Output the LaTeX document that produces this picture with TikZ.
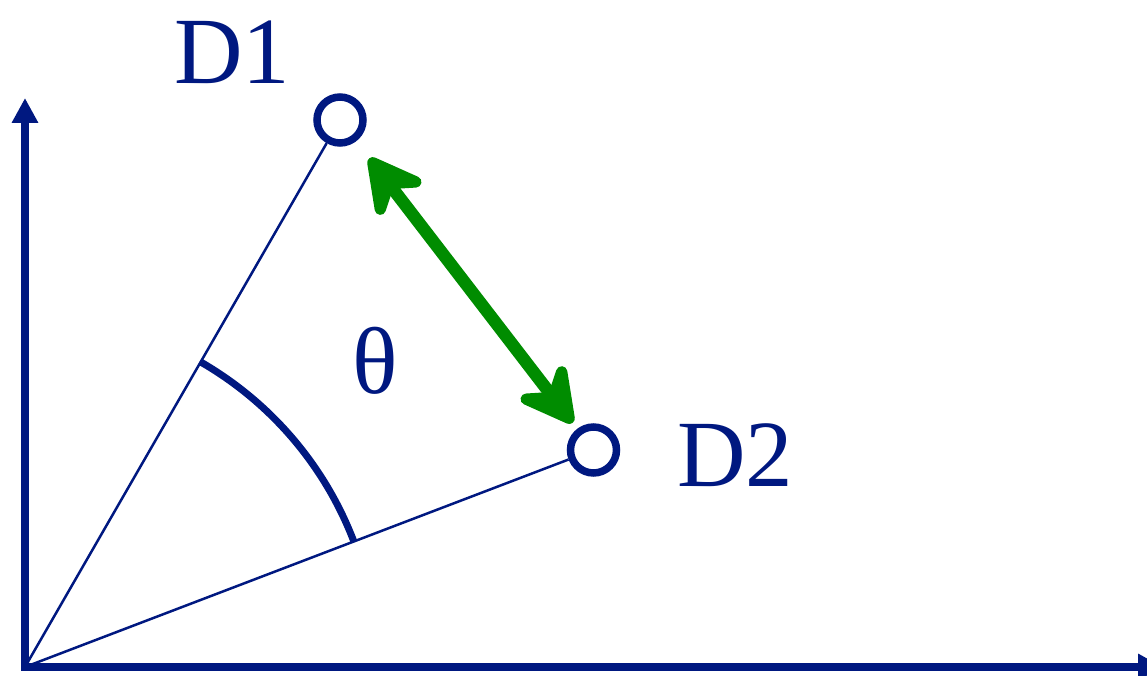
\documentclass[tikz,border=0pt]{standalone}
\usepackage{fontspec}
\setmainfont{Liberation Serif}
\usetikzlibrary{arrows.meta, angles}

\definecolor{navy}{RGB}{0,24,128}
\definecolor{grn}{RGB}{0,140,0}

\begin{document}
\begin{tikzpicture}[
    axis/.style={navy, line width=0.15cm, {Triangle[length=0.5cm, width=0.5cm]}-{Triangle[length=0.5cm, width=0.5cm]}},
    doc/.style={draw=navy, circle, line width=0.15cm, minimum size=0.92cm, inner sep=0pt},
    ray/.style={navy, line width=0.05cm},
    lbl/.style={text=navy, font=\fontsize{54}{60}\selectfont, inner sep=0pt}
]
    \useasboundingbox (-0.5, -0.16) rectangle (22.44, 13.34);
    \coordinate (O) at (0, 0);
    \coordinate (ytop) at (0, 11.38);
    \coordinate (xend) at (22.76, 0);
    \draw[axis] (ytop) -- (O) -- (xend);
    \node[doc] (D1) at (6.3, 10.94) {};
    \node[doc] (D2) at (11.37, 4.34) {};
    \draw[ray] (O) -- (D1);
    \draw[ray] (O) -- (D2);
    \pic[draw=navy, line width=0.14cm, angle radius=7.04cm] {angle = D2--O--D1};
    \draw[grn, line width=0.25cm, shorten <=0.43cm, shorten >=0.15cm,
        {Stealth[length=1.4cm, width=1.5cm, inset=0.5cm, round]}-{Stealth[length=1.4cm, width=1.5cm, inset=0.5cm, round]}] (D1) -- (D2);
    \node[lbl] (L1) at (4.14, 12.3) {D1};
    \node[lbl] (L2) at (14.2, 4.24) {D2};
    \node[lbl] (th) at (7.0, 6.12) {θ};
\end{tikzpicture}
\end{document}
